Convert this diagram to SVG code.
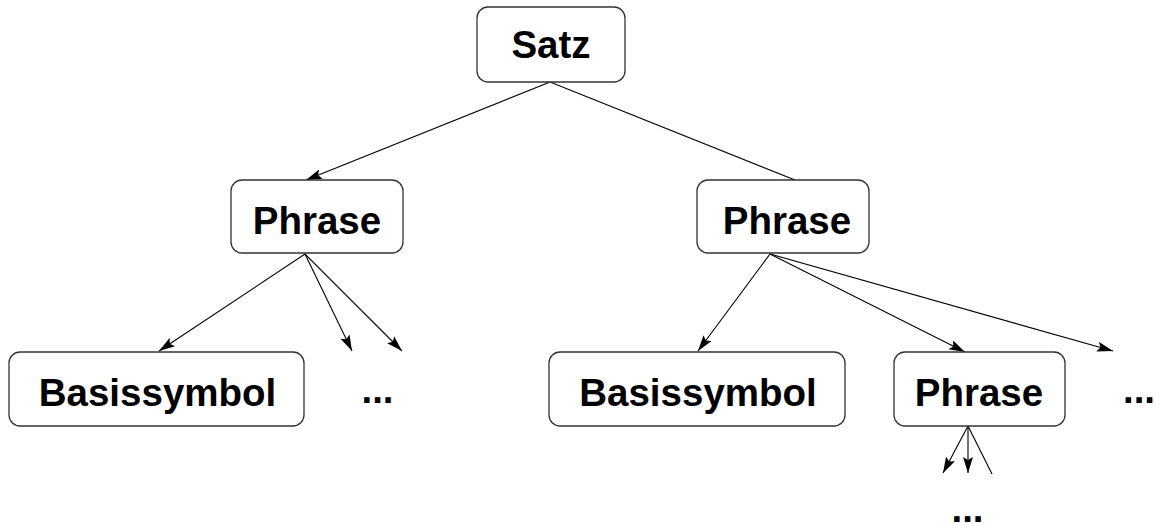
<svg xmlns="http://www.w3.org/2000/svg" width="1155" height="525" viewBox="0 0 1155 525">
  <style>
    .box { fill: #ffffff; stroke: #333333; stroke-width: 1.3; }
    .lbl { font-family: "Liberation Sans", Arial, sans-serif; font-weight: bold; font-size: 38.5px; fill: #000000; text-anchor: middle; }
    .edge { stroke: #000000; stroke-width: 1.1; fill: none; }
    .arrow { marker-end: url(#head); }
  </style>
  <defs>
    <marker id="head" markerUnits="userSpaceOnUse" markerWidth="18" markerHeight="12" refX="16" refY="5" orient="auto">
      <path d="M0,0 L16,5 L0,10 L3,5 Z" fill="#000000"/>
    </marker>
  </defs>

  <rect width="1155" height="525" fill="#ffffff"/>

  <!-- connectors -->
  <g id="connectors">
    <line class="edge arrow" x1="550" y1="82" x2="306" y2="180"/>
    <line class="edge" x1="550" y1="82" x2="795" y2="180"/>
    <line class="edge arrow" x1="305" y1="254" x2="159" y2="351"/>
    <line class="edge arrow" x1="305" y1="254" x2="352" y2="351"/>
    <line class="edge arrow" x1="305" y1="254" x2="402" y2="351"/>
    <line class="edge arrow" x1="770" y1="254" x2="698" y2="351"/>
    <line class="edge arrow" x1="770" y1="254" x2="965" y2="352"/>
    <line class="edge arrow" x1="770" y1="254" x2="1113" y2="351"/>
    <line class="edge arrow" x1="968" y1="426" x2="943" y2="473"/>
    <line class="edge arrow" x1="968" y1="426" x2="968" y2="473"/>
    <line class="edge" x1="968" y1="426" x2="992" y2="474"/>
  </g>

  <!-- nodes -->
  <g id="satz">
    <rect class="box" x="477" y="7" width="148" height="75" rx="11"/>
    <text class="lbl" x="551" y="58">Satz</text>
  </g>
  <g id="phrase-left">
    <rect class="box" x="231" y="180" width="172" height="73" rx="11"/>
    <text class="lbl" x="317" y="234">Phrase</text>
  </g>
  <g id="phrase-right">
    <rect class="box" x="697" y="180" width="172" height="73" rx="11"/>
    <text class="lbl" x="787" y="234">Phrase</text>
  </g>
  <g id="basissymbol-left">
    <rect class="box" x="9" y="352" width="295" height="74" rx="11"/>
    <text class="lbl" x="157.5" y="406">Basissymbol</text>
  </g>
  <g id="more-left">
    <text class="lbl" x="377.5" y="403">...</text>
  </g>
  <g id="basissymbol-right">
    <rect class="box" x="549" y="352" width="296" height="74" rx="11"/>
    <text class="lbl" x="698" y="406">Basissymbol</text>
  </g>
  <g id="phrase-bottom">
    <rect class="box" x="894" y="352" width="171" height="74" rx="11"/>
    <text class="lbl" x="979" y="406">Phrase</text>
  </g>
  <g id="more-right">
    <text class="lbl" x="1139" y="403">...</text>
  </g>
  <g id="more-bottom">
    <text class="lbl" x="967.5" y="522">...</text>
  </g>
</svg>
